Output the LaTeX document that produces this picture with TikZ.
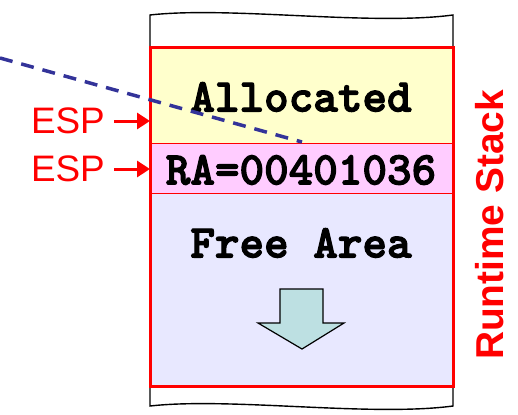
\documentclass[tikz,border=0pt]{standalone}
\usepackage{fontspec}
\setmainfont{Liberation Sans}
\newfontfamily\codefont{lmmonolt10-bold.otf}[FakeBold=2.5]
\usetikzlibrary{arrows.meta}
\definecolor{allocfill}{HTML}{FFFFCC}
\definecolor{rafill}{HTML}{FFCCFF}
\definecolor{freefill}{HTML}{E8E8FF}
\definecolor{growfill}{HTML}{BDE0E2}
\definecolor{linkblue}{HTML}{333399}
\definecolor{stackred}{HTML}{FF0000}
\tikzset{
  cell/.style={draw=stackred, line width=1bp, minimum width=303bp, inner sep=0pt, outer sep=0pt},
  celltext/.style={inner sep=0pt, font=\codefont\fontsize{47}{47}\selectfont},
  esplabel/.style={text=stackred, anchor=east, inner sep=0pt, font=\fontsize{37}{37}\selectfont},
  esparrow/.style={draw=stackred, line width=3bp, -{Triangle[length=13bp,width=16bp]}},
  edge/.style={draw=black, line width=1.4bp},
}
\begin{document}
\begin{tikzpicture}[x=1bp,y=-1bp]
\useasboundingbox (0,0) rectangle (518,414);
% torn ends of the stack
\draw[edge] (150,47) -- (150,15) .. controls (230,6) and (370,26) .. (453,15) -- (453,47);
\draw[edge] (150,386) -- (150,406) .. controls (230,397) and (370,417) .. (453,406) -- (453,386);
% stack cells
\node[cell, fill=allocfill, minimum height=96.5bp] (alloc) at (301.5,95.25) {};
\node[cell, fill=rafill, minimum height=49.5bp] (ra) at (301.5,168.25) {};
\node[cell, fill=freefill, minimum height=193bp] (free) at (301.5,289.5) {};
\node[celltext] (alloctext) at (301,97) {Allocated};
\node[celltext] (ratext) at (301,170) {RA=00401036};
\node[celltext] (freetext) at (301,243) {Free Area};
% outer frame
\draw[draw=stackred, line width=3bp] (alloc.north west) rectangle (free.south east);
% growth direction
\draw[fill=growfill, draw=black, line width=1.2bp, line join=miter]
  (280,289) -- (323,289) -- (323,323) -- (344,323) -- (302,349) -- (258,323) -- (280,323) -- cycle;
% stack pointer markers
\node[esplabel] (esp1) at (105,121) {ESP};
\node[esplabel] (esp2) at (105,169) {ESP};
\coordinate (tip1) at (alloc.west |- esp1);
\coordinate (tip2) at (ra.west |- esp2);
\draw[esparrow] (esp1.east) ++(9,0) -- (tip1);
\draw[esparrow] (esp2.east) ++(9,0) -- (tip2);
% side title
\node[text=stackred, rotate=90, inner sep=0pt, font=\bfseries\fontsize{39}{39}\selectfont] (title) at (490,225) {Runtime Stack};
% return address link
\coordinate (linkstart) at (0,58);
\coordinate (linkend) at (302,142);
\draw[linkblue, line width=3.5bp, dash pattern=on 13bp off 9bp] (linkstart) -- (linkend);
\end{tikzpicture}
\end{document}
